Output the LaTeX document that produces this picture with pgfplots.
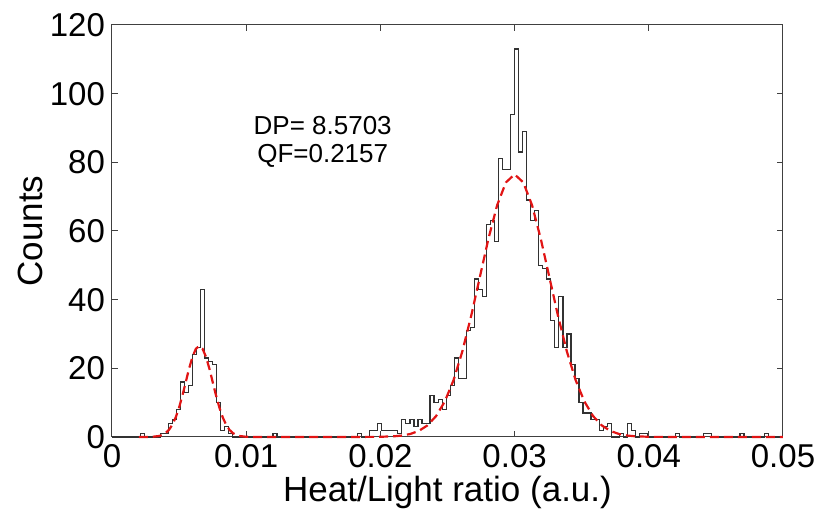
\documentclass[border=0pt]{standalone}
\usepackage{pgfplots}
\pgfplotsset{compat=1.18}
\usepackage{fontspec}
\setmainfont{Liberation Sans}
\definecolor{histc}{RGB}{50,50,50}
\definecolor{fitred}{RGB}{225,20,20}
\begin{document}
\begin{tikzpicture}
\useasboundingbox (-56pt,-37.5pt) rectangle (353.5pt,218.5pt);
\begin{axis}[
  width=335.5pt, height=206pt, scale only axis,
  xmin=0, xmax=0.05, ymin=0, ymax=120,
  xtick={0,0.01,0.02,0.03,0.04,0.05},
  xticklabels={0,0.01,0.02,0.03,0.04,0.05},
  ytick={0,20,40,60,80,100,120},
  scaled x ticks=false,
  tick align=inside, major tick length=3pt,
  axis line style={black!75, line width=0.5pt},
  tick style={black!75, line width=0.5pt},
  /pgf/number format/assume math mode=true,
  ticklabel style={font=\fontsize{16.5}{16.5}\selectfont},
  xlabel={Heat/Light ratio (a.u.)},
  ylabel={Counts},
  label style={font=\fontsize{17.5}{17.5}\selectfont},
  xlabel style={at={(axis description cs:0.5,-0.1335)}, anchor=center},
  ylabel style={at={(axis description cs:-0.1222,0.5)}, anchor=center},
  clip=false,
]
\addplot[const plot, histc, line width=0.6pt] coordinates {
(0,0)(0.0021,1)(0.0024,0)(0.0036,1)(0.0039,1)(0.0042,4)(0.0045,5)(0.0048,8)
(0.0051,16)(0.0054,13)(0.0057,15)(0.0060,24)(0.0063,26)(0.0066,43)(0.0069,23)
(0.0072,22)(0.0075,21)(0.0078,10)(0.0081,2)(0.0084,3)(0.0087,1)(0.0090,0)
(0.0120,1)(0.0123,0)(0.0183,1)(0.0186,0)(0.0192,2)(0.0195,2)(0.0198,4)(0.0201,2)
(0.0204,2)(0.0207,2)(0.0210,2)(0.0213,1)(0.0216,5)(0.0219,4)(0.0222,5)(0.0225,3)
(0.0228,5)(0.0231,4)(0.0234,4)(0.0237,12)(0.0240,10)(0.0243,11)(0.0246,8)
(0.0249,12)(0.0252,15)(0.0255,23)(0.0258,17)(0.0261,17)(0.0264,31)(0.0267,32)
(0.0270,46)(0.0273,43)(0.0276,41)(0.0279,62)(0.0282,63)(0.0285,57)(0.0288,81)
(0.0291,78)(0.0294,78)(0.0297,94)(0.0300,113)(0.0303,83)(0.0306,89)(0.0309,69)
(0.0312,63)(0.0315,66)(0.0318,50)(0.0321,49)(0.0324,46)(0.0327,34)(0.0330,26)
(0.0333,41)(0.0336,26)(0.0339,30)(0.0342,21)(0.0345,17)(0.0348,10)(0.0351,7)
(0.0354,7)(0.0357,5)(0.0360,5)(0.0363,2)(0.0366,3)(0.0369,4)(0.0372,0)
(0.0378,1)(0.0381,0)(0.0384,4)(0.0387,2)(0.0390,0)(0.0393,1)(0.0396,1)(0.0399,0)
(0.0420,1)(0.0423,0)(0.0441,1)(0.0447,0)(0.0468,1)(0.0471,0)(0.0486,1)(0.0489,0)
(0.0500,0)
};
\addplot[fitred, line width=1.1pt, dash pattern=on 4.5pt off 2.5pt] coordinates {
(0.0020,0)(0.0025,0.01)(0.0030,0.06)(0.0035,0.29)(0.00375,0.60)(0.0040,1.16)
(0.00425,2.11)(0.0045,3.59)(0.00475,5.73)(0.0050,8.60)(0.00525,12.13)(0.0055,16.07)
(0.00575,20.00)(0.0060,23.39)(0.00625,25.68)(0.0065,26.5)(0.00675,25.68)
(0.0070,23.39)(0.00725,20.00)(0.0075,16.07)(0.00775,12.13)(0.0080,8.60)
(0.00825,5.73)(0.0085,3.59)(0.00875,2.11)(0.0090,1.16)(0.00925,0.60)(0.0095,0.29)
(0.0100,0.06)(0.0105,0.01)(0.0110,0)(0.0196,0.03)(0.0209,0.17)(0.02155,0.39)
(0.0222,0.85)(0.02285,1.74)(0.0235,3.36)(0.02415,6.09)(0.0248,10.35)(0.02545,16.55)
(0.0261,24.84)(0.02675,35.02)(0.0274,46.40)(0.02805,57.74)(0.0287,67.51)
(0.02935,74.14)(0.0300,76.5)(0.03065,74.14)(0.0313,67.51)(0.03195,57.74)
(0.0326,46.40)(0.03325,35.02)(0.0339,24.84)(0.03455,16.55)(0.0352,10.35)
(0.03585,6.09)(0.0365,3.36)(0.03715,1.74)(0.0378,0.85)(0.03845,0.39)(0.0391,0.17)
(0.0404,0.03)(0.0500,0)
};
\node[align=center, font=\fontsize{13}{14}\selectfont] at (axis cs:0.0157,86) {DP= 8.5703\\QF=0.2157};
\end{axis}
\end{tikzpicture}
\end{document}
